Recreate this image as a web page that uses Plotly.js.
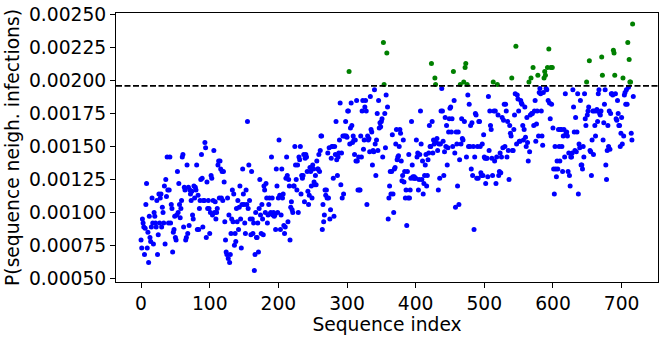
<!DOCTYPE html>
<html>
<head>
<meta charset="utf-8">
<script src="https://cdn.plot.ly/plotly-3.0.1.min.js"></script>
<style>
  html, body { margin: 0; padding: 0; background: #fff; }
  #chart { width: 665px; height: 337px; }
</style>
</head>
<body>
<div id="chart"></div>
<script>
// P(sequence neigh. infections) for each sequence index, in units of 1e-5,
// read off the picture in index order (one point per index)
const pIdx000 = [
  79, 73, 95, 92, 89, 68, 88, 106, 122, 73, 85,
  62, 97, 81, 78, 89, 111, 92, 76, 100, 97,
  92, 89, 109, 68, 83, 114, 92, 111, 114, 89, 104,
  100, 92, 120, 76, 125, 112, 142, 117, 92, 117,
  142, 92, 106, 103, 70, 85, 87, 97, 81, 79,
  98, 131, 100, 122, 106, 96, 103, 109, 142, 144, 89,
  119, 117, 79, 81, 136, 84, 119, 90, 117, 114,
  109, 116, 98, 95, 120, 111, 119, 117, 136, 87, 113,
  87, 103, 109, 125, 144, 126, 89, 109, 109, 153,
  149, 81, 123, 103, 109, 103, 84, 100, 128, 126, 98,
  109, 147, 100, 108, 95, 100, 103, 136, 139, 111
];
const pIdx115 = [
  139, 133, 111, 131, 109, 131, 123, 93, 79, 70,
  68, 111, 65, 98, 62, 68, 84, 95, 117, 93,
  114, 75, 84, 78, 103, 93, 109, 87, 104, 120,
  95, 73, 106, 133, 114, 106, 92, 84, 117, 106,
  169, 103, 136, 109, 95, 83, 131, 95, 84, 92,
  56, 68, 100, 81, 81, 92, 70, 103, 125, 98,
  84, 106, 95, 83, 120, 117, 100, 122, 111, 92,
  98, 106, 111, 99, 100, 142, 111, 98, 100,
  97, 98, 87, 133, 120, 100, 111, 155, 113,
  87, 98, 133, 111, 114, 90, 84, 89, 126, 142,
  128, 93, 125, 120, 79, 104, 108, 102, 100, 120,
  120, 150, 136, 125, 117, 136, 100, 142, 140, 150,
  114, 128, 126, 128, 144, 108
];
const pIdx239 = [
  141, 144, 142, 131, 116, 106, 113, 134, 131, 120,
  111, 136, 133, 123, 121, 128, 121, 139, 133, 133,
  144, 131, 147, 158, 158, 87, 106, 93, 98,
  117, 113, 117, 111, 145, 111, 149, 95, 102,
  141, 150, 150, 126, 97, 150, 144, 169, 140,
  128, 142, 145, 155, 183, 121, 145, 111, 158,
  114, 158, 158, 169, 158, 157, 177, 177, 207,
  152, 164, 183, 166, 153, 158, 155, 144, 155, 139,
  185, 139, 117, 142, 117, 117, 158, 142, 177, 185,
  148, 155, 180, 185, 177, 106, 158, 155, 156, 146,
  188, 163, 161, 136, 147, 146, 193, 152, 128, 155,
  175, 147, 185, 164, 168, 165, 169, 171, 142, 229,
  197, 175, 149, 189, 221, 180, 95, 111, 120, 131
];
const pIdx364 = [
  114, 131, 159, 114, 100, 133, 134, 152, 163, 140,
  142, 143, 150, 163, 160, 139, 124, 128, 155,
  123, 131, 111, 117, 90, 131, 111, 144, 111, 117,
  126, 169, 136, 127, 126, 127, 126, 126, 155,
  142, 145, 117, 125, 144, 177, 152, 125, 139, 114,
  122, 128, 136, 144, 120, 128, 140, 145, 166,
  150, 150, 213, 169, 145, 155, 152, 202, 197,
  153, 156, 147, 117, 152, 126, 152, 177, 194, 177,
  154, 128, 146, 172, 150, 166, 136, 149, 161,
  171, 179, 180, 161, 171, 150, 207, 185, 145, 104,
  161, 152, 120, 161, 106, 140, 197, 152, 171,
  156, 155, 199, 169, 210, 213, 142, 197, 189, 150,
  182, 150, 166, 133, 168, 128, 150, 87, 142, 175
];
const pIdx488 = [
  174, 126, 150, 126, 169, 169, 150, 130, 128,
  152, 128, 159, 142, 141, 122, 141, 141, 127, 188,
  147, 177, 166, 163, 141, 128, 199, 177, 139, 177,
  122, 142, 197, 174, 128, 131, 145, 130, 142, 172,
  149, 170, 182, 150, 182, 177, 142, 169, 147, 125,
  166, 160, 158, 202, 147, 147, 163, 174, 190, 226,
  152, 189, 186, 177, 154, 154, 185, 183, 182, 166,
  155, 163, 180, 157, 150, 172, 153, 139, 199,
  146, 174, 202, 175, 175, 210, 166, 177, 185, 154,
  167, 177, 204, 158, 191, 194, 190, 177, 158,
  151, 191, 202, 207, 204, 194, 193, 210, 185, 224,
  183, 171, 210, 182, 210, 164, 133, 114, 150, 133,
  127, 139, 133, 163, 150, 139, 163
];
const pIdx612 = [
  163, 150, 131, 158, 163, 142, 190, 160, 161,
  158, 131, 145, 128, 120, 142, 142, 145, 193,
  180, 161, 147, 172, 146, 161, 190, 114, 152,
  149, 185, 136, 136, 133, 150, 142, 190,
  171, 166, 199, 174, 177, 180, 215, 147, 146, 128,
  155, 177, 144, 177, 166, 158, 177, 178, 169,
  190, 193, 175, 174, 177, 218, 204, 155, 168,
  182, 193, 136, 125, 147, 166, 150, 177, 148, 175,
  190, 190, 189, 223, 221, 204, 190, 171, 170, 185,
  175, 166, 166, 150, 160, 172, 152, 202,
  158, 189, 191, 182, 193, 182, 229, 195, 216, 199,
  199, 160, 155, 243, 188
];

const threshold = 0.00196;
const xTicks = [0, 100, 200, 300, 400, 500, 600, 700];
const yTicks = [0.0005, 0.00075, 0.001, 0.00125, 0.0015, 0.00175, 0.002, 0.00225, 0.0025];
const yTickText = ["0.00050", "0.00075", "0.00100", "0.00125", "0.00150", "0.00175", "0.00200", "0.00225", "0.00250"];

const probs = [].concat(pIdx000, pIdx115, pIdx239, pIdx364, pIdx488, pIdx612).map(v => v * 1e-5);

// below / above the threshold get different colours
const lowX = [], lowY = [], highX = [], highY = [];
probs.forEach((p, i) => {
  if (p > threshold) { highX.push(i); highY.push(p); }
  else { lowX.push(i); lowY.push(p); }
});

const font = { family: "DejaVu Sans, sans-serif", size: 18.7, color: "#000" };

const data = [
  {
    x: lowX, y: lowY, type: "scatter", mode: "markers",
    marker: { color: "#0000ff", size: 5, line: { width: 0 } },
    hoverinfo: "skip"
  },
  {
    x: highX, y: highY, type: "scatter", mode: "markers",
    marker: { color: "#008000", size: 5, line: { width: 0 } },
    hoverinfo: "skip"
  }
];

const axisCommon = {
  showgrid: false,
  zeroline: false,
  showline: true,
  linecolor: "#000",
  linewidth: 1,
  mirror: true,
  ticks: "outside",
  ticklen: 5,
  tickwidth: 1,
  tickcolor: "#000",
  tickfont: font
};

const layout = {
  width: 665,
  height: 337,
  paper_bgcolor: "#fff",
  plot_bgcolor: "#fff",
  showlegend: false,
  margin: { l: 116, r: 7, t: 13, b: 55 },
  font: font,
  xaxis: {
    ...axisCommon,
    range: [-36.5, 753],
    tickmode: "array",
    tickvals: xTicks,
    title: { text: "Sequence index", font: font, standoff: 3 }
  },
  yaxis: {
    ...axisCommon,
    range: [0.000472, 0.002513],
    tickmode: "array",
    tickvals: yTicks,
    ticktext: yTickText,
    title: { text: "P(sequence neigh. infections)", font: font, standoff: 4 }
  },
  shapes: [{
    type: "line", xref: "paper", x0: 0, x1: 1,
    yref: "y", y0: threshold, y1: threshold,
    line: { color: "#000", width: 1.7, dash: "6px,2.5px" }
  }]
};

Plotly.newPlot("chart", data, layout, { displayModeBar: false, staticPlot: true });
</script>
</body>
</html>
